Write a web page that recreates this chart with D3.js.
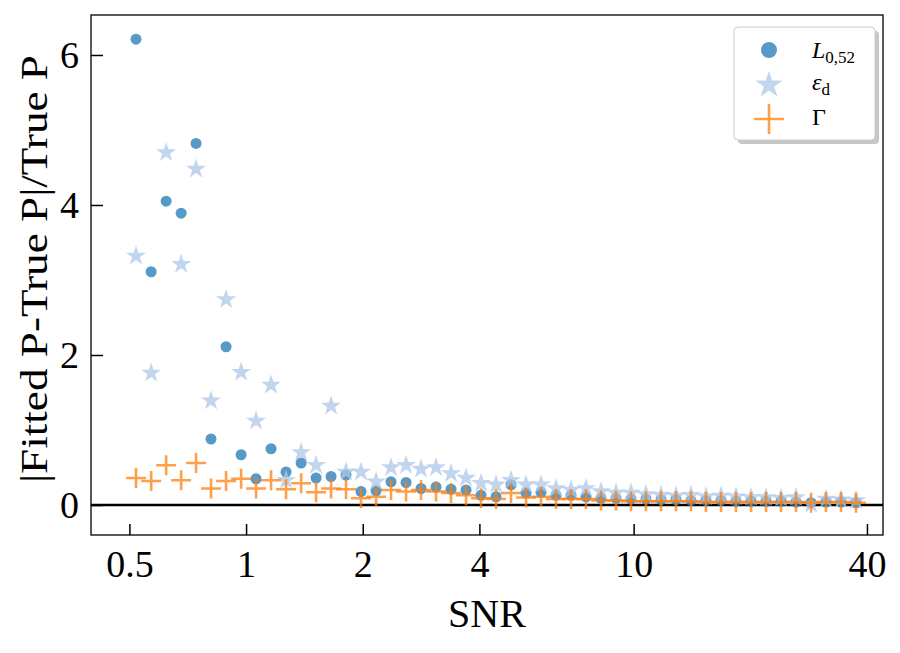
<!DOCTYPE html>
<html>
<head>
<meta charset="utf-8">
<script src="https://cdn.jsdelivr.net/npm/d3@7.9.0/dist/d3.min.js"></script>
<style>
  body { margin: 0; background: #fff; }
  svg text { font-family: "Liberation Serif", "DejaVu Serif", serif; fill: #000; }
</style>
</head>
<body>
<svg id="chart" width="900" height="653"></svg>
<script>
// SNR values (log spaced along the x axis)
const snr = [0.520, 0.569, 0.622, 0.680, 0.743, 0.812, 0.888, 0.971, 1.061, 1.160,
  1.268, 1.387, 1.516, 1.657, 1.811, 1.980, 2.165, 2.366, 2.587, 2.828,
  3.092, 3.380, 3.695, 4.039, 4.416, 4.827, 5.277, 5.769, 6.306, 6.894,
  7.537, 8.239, 9.007, 9.847, 10.76, 11.77, 12.86, 14.06, 15.37, 16.81,
  18.37, 20.09, 21.96, 24.01, 26.24, 28.69, 31.36, 34.29, 37.48];

// |Fitted P - True P| / True P for each parameter
const errL = [6.21, 3.11, 4.05, 3.89, 4.82, 0.88, 2.11, 0.67, 0.35, 0.75,
  0.44, 0.56, 0.36, 0.38, 0.40, 0.18, 0.19, 0.31, 0.30, 0.22,
  0.24, 0.21, 0.20, 0.13, 0.11, 0.27, 0.16, 0.17, 0.13, 0.13,
  0.11, 0.09, 0.09, 0.08, 0.08, 0.07, 0.07, 0.06, 0.06, 0.06,
  0.05, 0.05, 0.05, 0.05, 0.04, 0.03, 0.04, 0.04, 0.03];
const errEps = [3.32, 1.76, 4.70, 3.21, 4.48, 1.39, 2.74, 1.77, 1.12, 1.60,
  0.33, 0.70, 0.53, 1.32, 0.44, 0.44, 0.31, 0.50, 0.53, 0.48,
  0.50, 0.42, 0.36, 0.29, 0.27, 0.33, 0.27, 0.27, 0.22, 0.20,
  0.22, 0.18, 0.16, 0.16, 0.14, 0.13, 0.12, 0.13, 0.11, 0.12,
  0.11, 0.10, 0.10, 0.09, 0.10, 0.01, 0.08, 0.07, 0.06];
const errGamma = [0.36, 0.32, 0.53, 0.33, 0.56, 0.22, 0.32, 0.35, 0.22, 0.33,
  0.21, 0.29, 0.17, 0.22, 0.21, 0.09, 0.11, 0.20, 0.18, 0.20,
  0.18, 0.16, 0.13, 0.09, 0.08, 0.16, 0.10, 0.11, 0.08, 0.08,
  0.08, 0.06, 0.06, 0.05, 0.05, 0.05, 0.05, 0.05, 0.04, 0.04,
  0.04, 0.04, 0.04, 0.04, 0.04, 0.03, 0.04, 0.04, 0.03];

const xTicks = [0.5, 1, 2, 4, 10, 40];
const xTickLabels = ["0.5", "1", "2", "4", "10", "40"];
const yTicks = [0, 2, 4, 6];

const margin = { left: 91, top: 15, right: 17, bottom: 118 };
const width = 900, height = 653;
const svg = d3.select('#chart');

const x = d3.scaleLog().domain([0.398, 44.0]).range([margin.left, width - margin.right]);
const y = d3.scaleLinear().domain([-0.4, 6.533]).range([height - margin.bottom, margin.top]);

const cBlue = '#1f77b4', cLight = '#aec7e8', cOrange = '#ff7f0e';

// zero line
svg.append('line')
  .attr('x1', x.range()[0]).attr('x2', x.range()[1])
  .attr('y1', y(0)).attr('y2', y(0))
  .attr('stroke', '#000').attr('stroke-width', 2.5);

const plot = svg.append('g');

// circles
plot.selectAll('path.l')
  .data(snr)
  .enter()
  .append('path')
  .attr('class', 'l')
  .attr('d', d3.symbol(d3.symbolCircle, 95))
  .attr('transform', (d, i) => `translate(${x(d)},${y(errL[i])})`)
  .attr('fill', cBlue).attr('fill-opacity', 0.75);

// stars
plot.selectAll('path.e')
  .data(snr)
  .enter()
  .append('path')
  .attr('class', 'e')
  .attr('d', d3.symbol(d3.symbolStar, 124))
  .attr('transform', (d, i) => `translate(${x(d)},${y(errEps[i])})`)
  .attr('fill', cLight).attr('fill-opacity', 0.75);

// pluses
const plusPath = (h) => `M${-h},0H${h}M0,${-h}V${h}`;
plot.selectAll('path.g')
  .data(snr)
  .enter()
  .append('path')
  .attr('class', 'g')
  .attr('d', plusPath(10))
  .attr('transform', (d, i) => `translate(${x(d)},${y(errGamma[i])})`)
  .attr('stroke', cOrange).attr('stroke-opacity', 0.75).attr('stroke-width', 2.6)
  .attr('fill', 'none');

// axes (ticks inside)
const xAxis = d3.axisBottom(x).tickValues(xTicks).tickFormat((d, i) => xTickLabels[i])
  .tickSizeInner(-11).tickSizeOuter(0).tickPadding(15);
const gx = svg.append('g').attr('transform', `translate(0,${y.range()[0]})`).call(xAxis);
gx.select('.domain').remove();
gx.selectAll('line').attr('stroke', '#000').attr('stroke-width', 1.5);
gx.selectAll('text').attr('font-size', 38).attr('dy', '0.71em');

const yAxis = d3.axisLeft(y).tickValues(yTicks).tickFormat(d3.format('d'))
  .tickSizeInner(-12).tickSizeOuter(0).tickPadding(12);
const gy = svg.append('g').attr('transform', `translate(${x.range()[0]},0)`).call(yAxis);
gy.select('.domain').remove();
gy.selectAll('line').attr('stroke', '#000').attr('stroke-width', 1.5);
gy.selectAll('text').attr('font-size', 38);

// frame
svg.append('rect')
  .attr('x', x.range()[0]).attr('y', y.range()[1])
  .attr('width', x.range()[1] - x.range()[0])
  .attr('height', y.range()[0] - y.range()[1])
  .attr('fill', 'none').attr('stroke', '#000').attr('stroke-width', 1.3);

// axis labels
svg.append('text')
  .attr('x', (x.range()[0] + x.range()[1]) / 2).attr('y', 627)
  .attr('text-anchor', 'middle').attr('font-size', 40)
  .text('SNR');

svg.append('text')
  .attr('transform', `translate(47,${(y.range()[0] + y.range()[1]) / 2 - 6}) rotate(-90)`)
  .attr('text-anchor', 'middle').attr('font-size', 38)
  .attr('textLength', 428).attr('lengthAdjust', 'spacingAndGlyphs')
  .text('|Fitted P-True P|/True P');

// legend
const lg = svg.append('g').attr('transform', 'translate(734,27)');
lg.append('rect').attr('x', 4).attr('y', 4).attr('width', 141).attr('height', 113)
  .attr('rx', 4).attr('fill', '#999').attr('fill-opacity', 0.55);
lg.append('rect').attr('width', 141).attr('height', 113).attr('rx', 4)
  .attr('fill', '#fff').attr('stroke', '#ccc').attr('stroke-width', 1);

lg.append('path').attr('d', d3.symbol(d3.symbolCircle, 200))
  .attr('transform', 'translate(35,23)').attr('fill', cBlue).attr('fill-opacity', 0.75);
lg.append('path').attr('d', d3.symbol(d3.symbolStar, 230))
  .attr('transform', 'translate(35,58)').attr('fill', cLight).attr('fill-opacity', 0.75);
lg.append('path').attr('d', plusPath(15))
  .attr('transform', 'translate(35,92)').attr('stroke', cOrange).attr('stroke-opacity', 0.75)
  .attr('stroke-width', 2.6).attr('fill', 'none');

const t1 = lg.append('text').attr('x', 78).attr('y', 31).attr('font-size', 24);
t1.append('tspan').attr('font-style', 'italic').text('L');
t1.append('tspan').attr('font-size', 17).attr('dy', 5).text('0,52');

const t2 = lg.append('text').attr('x', 78).attr('y', 63).attr('font-size', 24);
t2.append('tspan').attr('font-style', 'italic').text('ε');
t2.append('tspan').attr('font-size', 17).attr('dy', 5).text('d');

lg.append('text').attr('x', 78).attr('y', 98).attr('font-size', 24).text('Γ');
</script>
</body>
</html>
